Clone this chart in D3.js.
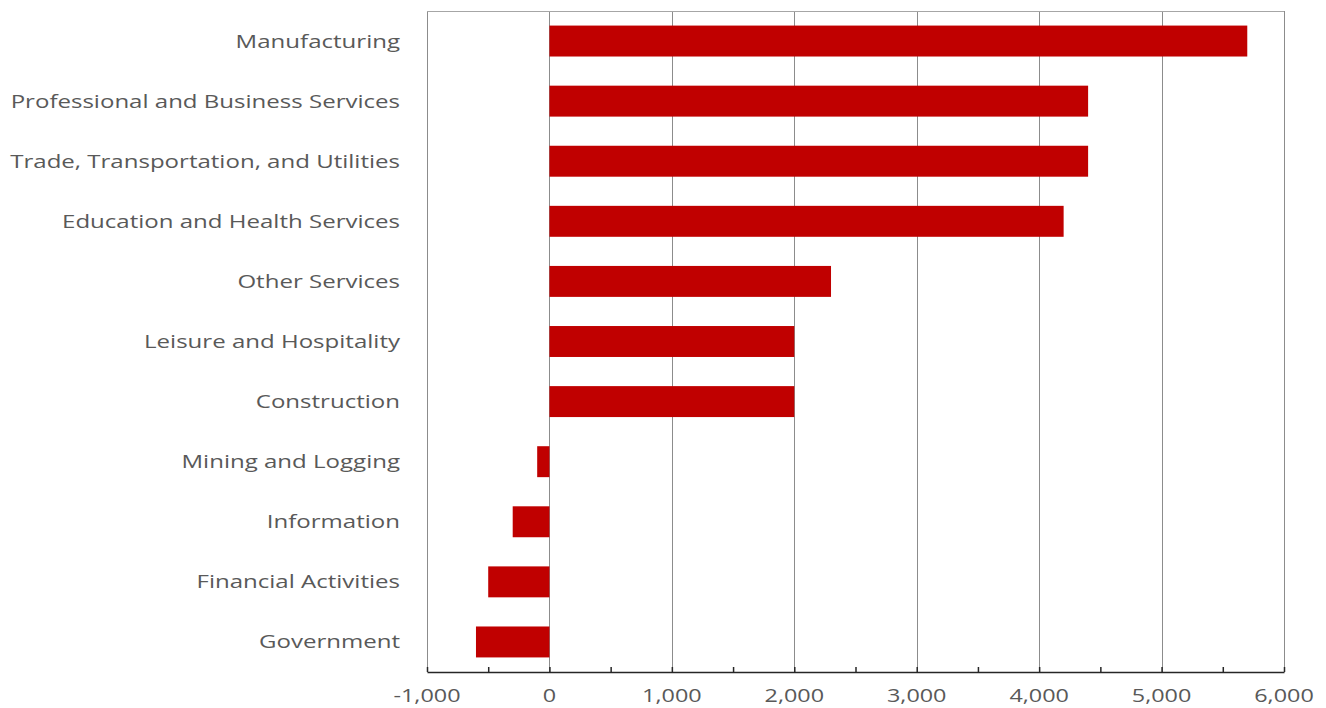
<!DOCTYPE html>
<html>
<head>
<meta charset="utf-8">
<script src="https://cdn.jsdelivr.net/npm/d3@7"></script>
<style>
  body { margin: 0; background: #fff; }
  text { font-family: "Open Sans", sans-serif; fill: #595959; }
</style>
</head>
<body>
<div id="chart"></div>
<script>
// Categories (top to bottom) and their values
var categories = ["Manufacturing", "Professional and Business Services", "Trade, Transportation, and Utilities",
  "Education and Health Services", "Other Services", "Leisure and Hospitality", "Construction",
  "Mining and Logging", "Information", "Financial Activities", "Government"];
var values = [5700, 4400, 4400, 4200, 2300, 2000, 2000, -100, -300, -500, -600];
var xTicks = [-1000, 0, 1000, 2000, 3000, 4000, 5000, 6000];
var minorTicks = [-1000, -500, 0, 500, 1000, 1500, 2000, 2500, 3000, 3500, 4000, 4500, 5000, 5500, 6000];

var width = 1326;
var height = 708;
var margin = {top: 11, right: 42, bottom: 36, left: 427};
var stretch = 1.3;   // labels in the original are drawn wide

var svg = d3.select("#chart")
    .append("svg")
    .attr("width", width)
    .attr("height", height);

var xScale = d3.scaleLinear()
    .domain([-1000, 6000])
    .range([margin.left, width - margin.right]);

var yScale = d3.scaleBand()
    .domain(categories)
    .range([margin.top, height - margin.bottom])
    .paddingInner(0.485)
    .paddingOuter(0.2425);

// Vertical gridlines
svg.append("g")
    .selectAll("line")
    .data(xTicks)
    .enter()
    .append("line")
    .attr("x1", function(d) { return Math.round(xScale(d)) + 0.5; })
    .attr("x2", function(d) { return Math.round(xScale(d)) + 0.5; })
    .attr("y1", margin.top)
    .attr("y2", height - margin.bottom)
    .attr("stroke", "#8c8c8c")
    .attr("stroke-width", 1);

// Top border of plot area
svg.append("line")
    .attr("x1", xScale(-1000))
    .attr("x2", xScale(6000))
    .attr("y1", margin.top + 0.5)
    .attr("y2", margin.top + 0.5)
    .attr("stroke", "#a6a6a6");

// Bars
svg.append("g")
    .selectAll("rect")
    .data(values)
    .enter()
    .append("rect")
    .attr("x", function(d) { return xScale(Math.min(0, d)); })
    .attr("width", function(d) { return Math.abs(xScale(d) - xScale(0)); })
    .attr("y", function(d, i) { return yScale(categories[i]); })
    .attr("height", yScale.bandwidth())
    .attr("fill", "#c00000");

// Bottom axis with inward ticks every 500
var axisY = height - margin.bottom;
var xAxis = d3.axisBottom(xScale)
    .tickValues(minorTicks)
    .tickSize(-5)
    .tickSizeOuter(0)
    .tickFormat("");

var axisG = svg.append("g")
    .attr("transform", "translate(0," + axisY + ")")
    .call(xAxis);
axisG.select(".domain").attr("stroke", "#262626").attr("stroke-width", 1.5);
axisG.selectAll(".tick line").attr("stroke", "#262626").attr("stroke-width", 1.5);

// Tick labels (plain hyphen for negatives, as in the original)
var fmt = d3.format(",");
svg.append("g")
    .selectAll("text")
    .data(xTicks)
    .enter()
    .append("text")
    .attr("transform", function(d) {
        return "translate(" + xScale(d) + "," + (axisY + 30) + ") scale(" + stretch + ",1)";
    })
    .attr("text-anchor", "middle")
    .attr("font-size", 18)
    .text(function(d) { return fmt(d).replace("\u2212", "-"); });

// Category labels
svg.append("g")
    .selectAll("text")
    .data(categories)
    .enter()
    .append("text")
    .attr("transform", function(d) {
        return "translate(400," + (yScale(d) + yScale.bandwidth() / 2) + ") scale(" + stretch + ",1)";
    })
    .attr("dy", "0.35em")
    .attr("text-anchor", "end")
    .attr("font-size", 18.5)
    .text(function(d) { return d; });
</script>
</body>
</html>
